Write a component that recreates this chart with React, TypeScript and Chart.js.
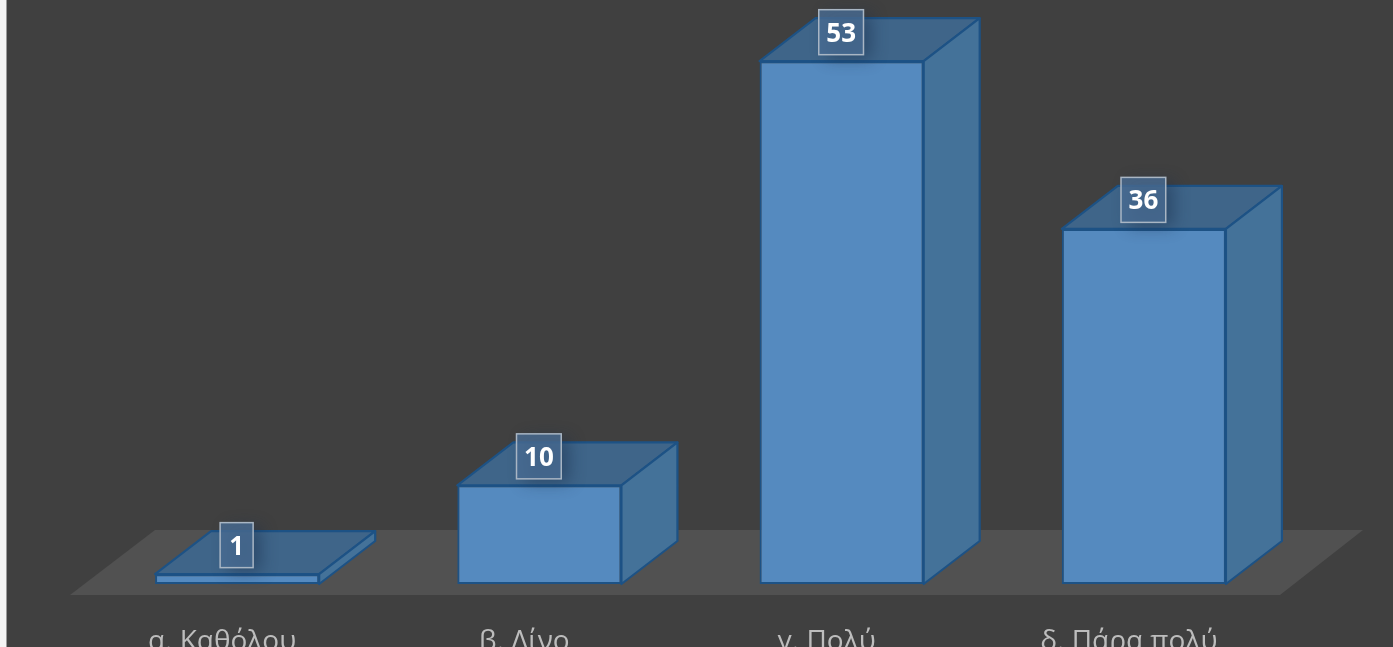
import React, { useEffect, useRef } from "react";
import { Chart, registerables } from "chart.js";

Chart.register(...registerables);

const categories = ["α. Καθόλου", "β. Λίνο", "γ. Πολύ", "δ. Πάρα πολύ"];
const responses = [1, 10, 53, 36];

const DEPTH_X = 56;
const DEPTH_Y = 43;
const BORDER = "#1d5285";

// Floor, side and top faces sit behind the front faces Chart.js draws.
const extrusion = {
  id: "extrusion",
  beforeDatasetsDraw(chart: any) {
    const { ctx, chartArea: a } = chart;
    const base = a.bottom;
    ctx.save();
    ctx.fillStyle = "#515151";
    ctx.beginPath();
    ctx.moveTo(a.left - 16, base + 11);
    ctx.lineTo(a.right - 15, base + 11);
    ctx.lineTo(a.right + 68, base - 54);
    ctx.lineTo(a.left + 69, base - 54);
    ctx.closePath();
    ctx.fill();

    chart.getDatasetMeta(0).data.forEach((bar: any) => {
      const l = bar.x - bar.width / 2;
      const r = bar.x + bar.width / 2;
      const t = bar.y;
      const b = bar.base;
      ctx.lineWidth = 2.2;
      ctx.lineJoin = "round";
      ctx.strokeStyle = BORDER;

      ctx.fillStyle = "#3f6589";
      ctx.beginPath();
      ctx.moveTo(l, t);
      ctx.lineTo(r, t);
      ctx.lineTo(r + DEPTH_X, t - DEPTH_Y);
      ctx.lineTo(l + DEPTH_X, t - DEPTH_Y);
      ctx.closePath();
      ctx.fill();
      ctx.stroke();

      ctx.fillStyle = "#447299";
      ctx.beginPath();
      ctx.moveTo(r, t);
      ctx.lineTo(r + DEPTH_X, t - DEPTH_Y);
      ctx.lineTo(r + DEPTH_X, b - DEPTH_Y);
      ctx.lineTo(r, b);
      ctx.closePath();
      ctx.fill();
      ctx.stroke();
    });
    ctx.restore();
  },
  afterDatasetsDraw(chart: any) {
    const { ctx } = chart;
    const values = chart.data.datasets[0].data;
    ctx.save();
    ctx.font = "bold 26px 'Open Sans'";
    ctx.textAlign = "center";
    ctx.textBaseline = "middle";
    chart.getDatasetMeta(0).data.forEach((bar: any, i: number) => {
      const text = String(values[i]);
      const w = ctx.measureText(text).width + 15;
      const cx = bar.x - 0.5;
      const cy = bar.y - 29;
      const boxW = Math.max(w, 33);
      const boxH = 45;
      ctx.save();
      ctx.shadowColor = "rgba(25,45,75,0.6)";
      ctx.shadowBlur = 16;
      ctx.shadowOffsetX = 8;
      ctx.shadowOffsetY = 4;
      ctx.fillStyle = "rgba(72,108,146,0.8)";
      ctx.fillRect(cx - boxW / 2, cy - boxH / 2, boxW, boxH);
      ctx.restore();
      ctx.strokeStyle = "#a9b6c4";
      ctx.lineWidth = 1.5;
      ctx.strokeRect(cx - boxW / 2, cy - boxH / 2, boxW, boxH);
      ctx.fillStyle = "#ffffff";
      ctx.fillText(text, cx, cy + 2);
    });
    ctx.restore();
  },
};

export default function App() {
  const ref = useRef<HTMLCanvasElement>(null);
  useEffect(() => {
    const canvas = ref.current!;
    const chart = new Chart(canvas, {
      type: "bar",
      data: {
        labels: categories,
        datasets: [
          {
            data: responses,
            backgroundColor: (c: any) => {
              const a = c.chart.chartArea;
              const bar = c.element;
              if (!a || !bar || !bar.width) return "#558abf";
              const l = bar.x - bar.width / 2;
              const g = c.chart.ctx.createLinearGradient(l, 0, l + bar.width, 0);
              g.addColorStop(0, "#5589bb");
              g.addColorStop(0.35, "#5a90c7");
              g.addColorStop(1, "#5a8cbf");
              return g;
            },
            borderColor: BORDER,
            borderWidth: 2,
            borderSkipped: false,
            barPercentage: 0.543,
            categoryPercentage: 1,
          },
        ],
      },
      options: {
        animation: false,
        responsive: false,
        events: [],
        layout: { padding: { left: 86, right: 98, top: 2, bottom: 0 } },
        plugins: { legend: { display: false }, tooltip: { enabled: false } },
        scales: {
          y: { display: false, min: 0, max: 59 },
          x: {
            afterFit: (s: any) => {
              s.height = 63;
            },
            grid: { display: false },
            border: { display: false },
            ticks: {
              autoSkip: false,
              maxRotation: 0,
              minRotation: 0,
              labelOffset: -15,
              padding: 33,
              color: "#bdbdbd",
              font: { family: "'Open Sans'", size: 28 },
            },
          },
        },
      },
      plugins: [extrusion],
    } as any);
    return () => chart.destroy();
  }, []);

  return (
    <div style={{ position: "fixed", inset: 0, background: "#404040", overflow: "hidden" }}>
      <div
        style={{
          position: "absolute",
          left: 0,
          top: 0,
          bottom: 0,
          width: 6,
          background: "#f4f4f4",
          borderRight: "1px solid #9a9a9a",
        }}
      />
      <canvas ref={ref} width={1393} height={647} style={{ position: "absolute", left: 0, top: 0 }} />
    </div>
  );
}
